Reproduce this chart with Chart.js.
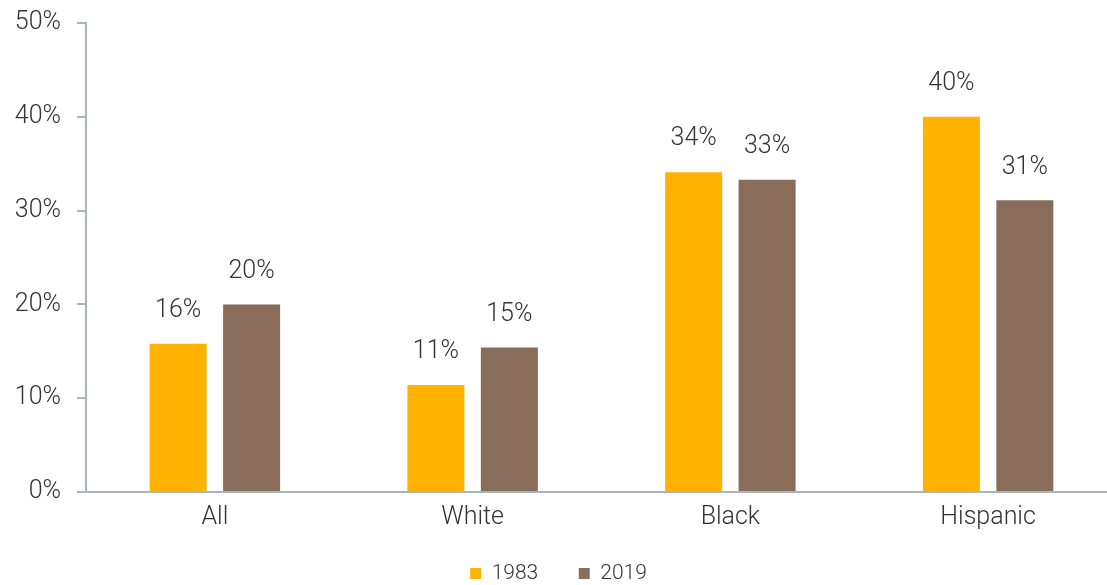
<!DOCTYPE html>
<html>
<head>
<meta charset="utf-8">
<script src="https://cdn.jsdelivr.net/npm/chart.js@4/dist/chart.umd.min.js"></script>
<style>
  html, body { margin: 0; padding: 0; background: #fff; overflow: hidden; }
  /* the plot runs slightly past the right edge of the window */
  #wrap { width: 1117px; height: 585px; position: relative; }
</style>
</head>
<body>
<div id="wrap"><canvas id="c"></canvas></div>
<script>
// Share of households by group, 1983 vs 2019 (percent)
const categories = ['All', 'White', 'Black', 'Hispanic'];
const values1983 = [15.8, 11.4, 34.1, 40.0];
const values2019 = [20.0, 15.4, 33.3, 31.1];
const yTicks = [0, 10, 20, 30, 40, 50];

const FONT = "Roboto, 'Liberation Sans', sans-serif";
const AXIS = '#a9b5bd';
const TEXT = '#333333';

// Draws the rounded percentage above each bar
const valueLabels = {
  id: 'valueLabels',
  afterDatasetsDraw(chart) {
    const ctx = chart.ctx;
    ctx.save();
    ctx.font = '300 25px ' + FONT;
    ctx.fillStyle = TEXT;
    ctx.textAlign = 'center';
    ctx.textBaseline = 'middle';
    chart.data.datasets.forEach((ds, i) => {
      chart.getDatasetMeta(i).data.forEach((bar, j) => {
        ctx.fillText(Math.round(ds.data[j]) + '%', bar.x, bar.y - 33);
      });
    });
    ctx.restore();
  }
};

new Chart(document.getElementById('c'), {
  type: 'bar',
  data: {
    labels: categories,
    datasets: [
      { label: '1983', data: values1983, backgroundColor: '#FFB300', borderWidth: 0 },
      { label: '2019', data: values2019, backgroundColor: '#8A6C5B', borderWidth: 0 }
    ]
  },
  options: {
    responsive: true,
    maintainAspectRatio: false,
    animation: false,
    categoryPercentage: 0.570,
    barPercentage: 0.776,
    layout: { padding: { top: 0, right: 0, bottom: -9, left: 0 } },
    plugins: {
      tooltip: { enabled: false },
      legend: {
        position: 'bottom',
        labels: {
          font: { family: FONT, size: 21, weight: '300' },
          color: TEXT,
          boxWidth: 11,
          boxHeight: 11,
          padding: 20,
          useBorderRadius: false,
          // wider gap after the first entry
          generateLabels(chart) {
            const items = Chart.defaults.plugins.legend.labels.generateLabels(chart);
            items.forEach((it, i) => { if (i < items.length - 1) it.text += '    '; });
            return items;
          }
        }
      }
    },
    scales: {
      x: {
        afterFit(axis) { axis.height = 51; },
        grid: { display: false, drawTicks: false },
        border: { color: AXIS, width: 2 },
        ticks: {
          font: { family: FONT, size: 25, weight: '300' },
          color: TEXT,
          padding: 11
        }
      },
      y: {
        min: 0,
        max: 50,
        afterBuildTicks(axis) { axis.ticks = yTicks.map(v => ({ value: v })); },
        afterFit(axis) { axis.width = 86; axis.paddingTop = 23; },
        grid: { drawOnChartArea: false, drawTicks: true, tickLength: 9, color: AXIS, lineWidth: 2 },
        border: { color: AXIS, width: 2 },
        ticks: {
          font: { family: FONT, size: 25, weight: '300' },
          color: TEXT,
          padding: 16,
          callback: v => v + '%'
        }
      }
    }
  },
  plugins: [valueLabels]
});
</script>
</body>
</html>
